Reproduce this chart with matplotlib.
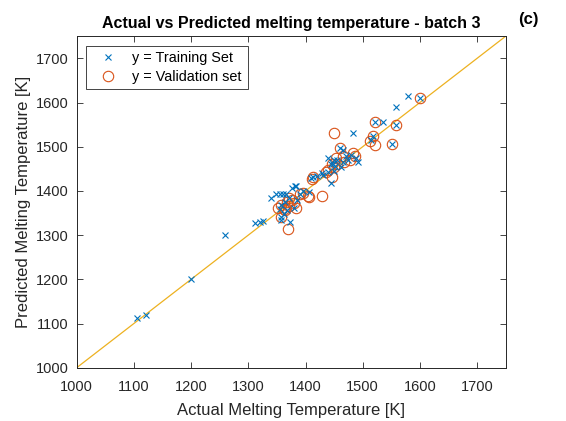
import matplotlib.pyplot as plt
import numpy as np

plt.rcParams['font.family'] = ['Liberation Sans', 'DejaVu Sans']

# actual vs predicted melting temperature [K]
train_actual = [1105, 1121, 1199, 1259, 1311, 1320, 1326, 1340, 1348, 1355, 1360, 1366,
                1381, 1377, 1384, 1390, 1406, 1372, 1358, 1365, 1358, 1358, 1373, 1380,
                1368, 1413, 1420, 1440, 1445, 1428, 1452, 1448, 1455, 1460, 1465, 1470,
                1475, 1491, 1483, 1518, 1514, 1522, 1536, 1551, 1558, 1558, 1580, 1600,
                1445, 1450, 1440, 1462, 1480, 1430, 1410, 1395, 1385, 1355, 1363, 1450,
                1465, 1488]
train_pred = [1112, 1119, 1201, 1300, 1327, 1330, 1332, 1385, 1392, 1393, 1392, 1394,
              1411, 1406, 1411, 1393, 1398, 1383, 1368, 1375, 1342, 1334, 1330, 1362,
              1356, 1432, 1433, 1443, 1417, 1440, 1456, 1462, 1470, 1496, 1492, 1480,
              1470, 1466, 1532, 1524, 1515, 1555, 1555, 1506, 1549, 1589, 1615, 1611,
              1460, 1445, 1475, 1455, 1482, 1435, 1430, 1400, 1380, 1360, 1347, 1470,
              1465, 1475]

val_actual = [1600, 1522, 1558, 1518, 1513, 1521, 1551, 1449, 1460, 1483, 1487, 1454,
              1468, 1478, 1447, 1455, 1435, 1447, 1413, 1429, 1405, 1390, 1406, 1372,
              1376, 1368, 1358, 1352, 1383, 1365, 1358, 1370, 1362, 1380, 1440, 1450,
              1465, 1412, 1395, 1372]
val_pred = [1611, 1555, 1549, 1524, 1514, 1504, 1506, 1532, 1496, 1486, 1479, 1474,
            1466, 1470, 1460, 1462, 1443, 1431, 1432, 1388, 1388, 1393, 1387, 1383,
            1380, 1375, 1368, 1361, 1361, 1357, 1342, 1313, 1360, 1372, 1447, 1455,
            1480, 1428, 1395, 1365]

lims = [1000, 1750]
ticks = np.arange(1000, 1701, 100)

blue = '#0072BD'
orange = '#D95319'
gold = '#EDB120'
axcol = '#262626'

fig = plt.figure(figsize=(5.66, 4.21), dpi=100)
ax = fig.add_axes([0.1355, 0.1266, 0.758, 0.7874])

# y = x reference line
ax.plot(lims, lims, color=gold, lw=0.9, zorder=1)
ax.plot(train_actual, train_pred, 'x', color=blue, ms=5, mew=0.8,
        label='y = Training Set', zorder=3)
ax.plot(val_actual, val_pred, 'o', mfc='none', mec=orange, ms=7.5, mew=0.8,
        label='y = Validation set', zorder=2)

ax.set_xlim(lims)
ax.set_ylim(lims)
ax.set_xticks(ticks)
ax.set_yticks(ticks)
ax.tick_params(direction='in', top=True, right=True, labelsize=10.5,
               colors=axcol, length=4, width=0.6)
ax.tick_params(axis='x', pad=9)
ax.tick_params(axis='y', pad=6)
for s in ax.spines.values():
    s.set_color(axcol)
    s.set_linewidth(0.7)

ax.set_xlabel('Actual Melting Temperature [K]', fontsize=12, color=axcol, labelpad=6)
ax.set_ylabel('Predicted Melting Temperature [K]', fontsize=12, color=axcol, labelpad=3)
ax.set_title('Actual vs Predicted melting temperature - batch 3',
             fontsize=11.5, fontweight='bold', pad=6)

fig.text(0.933, 0.953, '(c)', fontsize=12, fontweight='bold', ha='center', va='center')

leg = ax.legend(loc='upper left', fontsize=10.4, frameon=True, fancybox=False,
                framealpha=1, edgecolor=axcol, borderpad=0.4, handletextpad=0.6,
                labelspacing=0.3, handlelength=2.2, borderaxespad=0.65)
leg.get_frame().set_linewidth(0.6)

fig.savefig('out.png', dpi=100)
